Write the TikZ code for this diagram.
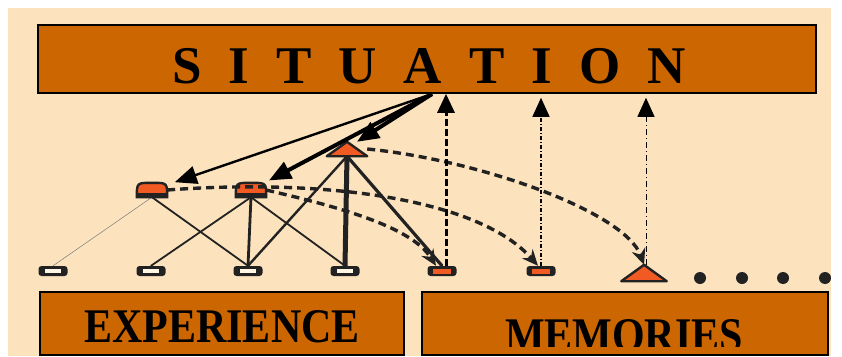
\documentclass[tikz,border=0pt]{standalone}
\usepackage{fontspec}
\usepackage{graphicx}
\setmainfont{Liberation Serif}
\usetikzlibrary{arrows.meta,calc}
\definecolor{bg}{HTML}{FCE3BE}
\definecolor{boxc}{HTML}{CC6600}
\definecolor{nodeo}{HTML}{F15A22}
\definecolor{dk}{HTML}{222222}
\definecolor{cream}{HTML}{FFF6E6}
\pgfdeclarelayer{back}
\pgfdeclarelayer{links}
\pgfsetlayers{back,links,main}
\begin{document}
\begin{tikzpicture}[x=1pt,y=-1pt,
  hollow/.style={fill=dk, rounded corners=3pt, minimum width=29pt, minimum height=10pt, inner sep=0pt},
  spot/.style={inner sep=0pt, minimum width=30pt, minimum height=14pt},
  bigspot/.style={inner sep=0pt, minimum width=45pt, minimum height=16pt},
  tri/.style={fill=nodeo, draw=dk, line width=2.4pt, line join=round},
  dome/.style={fill=nodeo, draw=dk, line width=2.4pt},
  title/.style={draw=black, line width=1.6pt, fill=boxc, inner sep=0pt},
  link/.style={draw=dk, line cap=round},
  push/.style={draw=black, -{Triangle[length=22pt,width=18pt]}},
  recall/.style={draw=dk, line width=3.4pt, dash pattern=on 8pt off 5pt, -{Stealth[length=16pt,width=14pt]}},
  probe/.style={draw=black, -{Triangle[length=19pt,width=17pt]}},
  dotn/.style={circle, fill=dk, minimum size=12pt, inner sep=0pt}
]
\useasboundingbox (0,0) rectangle (842,356);
\begin{pgfonlayer}{back}
\fill[bg] (8,8) rectangle (831,356);
\end{pgfonlayer}

% title boxes
\node[title, minimum width=778pt, minimum height=68pt] (sit) at (427,59) {};
\node[anchor=base] (sittext) at (429,83) {\fontsize{53}{60}\selectfont\bfseries\spaceskip=27pt\relax S I T U A T I O N};
\node[title, minimum width=364pt, minimum height=63pt] (exp) at (222,323.5) {};
\node[anchor=base] (exptext) at (222,342) {\scalebox{1}[1.15]{\fontsize{42}{42}\selectfont\bfseries EXPERIENCE}};
\node[title, minimum width=406pt, minimum height=63pt] (mem) at (625,323.5) {};
\begin{scope}
\clip (420,290) rectangle (830,346);
\node[anchor=base] (memtext) at (624,351) {\scalebox{1}[1.15]{\fontsize{42}{42}\selectfont\bfseries MEMORIES}};
\end{scope}

% bottom row
\node[hollow] (b1) at (53,271) {};
\node[hollow] (b2) at (151,271) {};
\node[hollow] (b3) at (248,271) {};
\node[hollow] (b4) at (345,271) {};
\node[hollow] (b5) at (442,271) {};
\node[hollow] (b6) at (541,271) {};
\foreach \b in {b1,b2,b3,b4}{
  \fill[cream] ($(\b.center)+(-8,-2)$) rectangle ($(\b.center)+(8,2)$);
}
\foreach \b in {b5,b6}{
  \fill[nodeo] ($(\b.center)+(-9,-2.5)$) rectangle ($(\b.center)+(9,2.5)$);
}
\node[bigspot] (bt) at (644,273) {};
\filldraw[tri] (bt.south west) -- (bt.north) -- (bt.south east) -- cycle;
\node[dotn] (d1) at (700,278) {};
\node[dotn] (d2) at (742,278) {};
\node[dotn] (d3) at (783,278) {};
\node[dotn] (d4) at (825,278) {};

% middle and top
\node[spot] (m1) at (152,190) {};
\node[spot] (m2) at (251,190) {};
\node[spot, minimum width=40pt] (t) at (347,149) {};
\foreach \m in {m1,m2}{
  \filldraw[dome] (\m.south west) .. controls (\m.north west) and (\m.north west) .. (\m.north)
     .. controls (\m.north east) and (\m.north east) .. (\m.south east) -- cycle;
  \fill[dk] (\m.south west) rectangle ($(\m.south east)!0.3!(\m.north east)$);
}
\filldraw[tri] (t.south west) -- (t.north) -- (t.south east) -- cycle;

% links
\begin{pgfonlayer}{links}
\draw[link, line width=0.5pt, draw=dk!60] (m1.south) -- (b1.north);
\draw[link, line width=1.8pt] (m1.south) -- (b3.north);
\draw[link, line width=1.8pt] (m2.south) -- (b2.north);
\draw[link, line width=2.8pt] (m2.south) -- (b3.north);
\draw[link, line width=1.8pt] (m2.south) -- (b4.north);
\draw[link, line width=2.4pt] (t.south) -- (b3.north);
\draw[link, line width=5pt, line cap=butt] (t.south) -- (b4.north);
\draw[link, line width=3.2pt] (t.south) -- (b5.north);
\end{pgfonlayer}

% arrows from situation
\coordinate (src) at (432,94);
\draw[push, line width=2.4pt, shorten >=8pt] (src) -- (m1);
\draw[push, line width=4pt, shorten >=5pt] (src) -- (m2);
\draw[push, line width=4pt] (src) -- ([xshift=10pt]t.north);

% recall curves
\draw[recall] (t.east) .. controls (480,160) and (625,212) .. (bt.north);
\draw[recall] (m1.east) .. controls (330,178) and (480,200) .. ([xshift=-3pt]b6.north);
\draw[recall] (m2.east) .. controls (330,205) and (410,225) .. ([xshift=-6pt]b5.north);

% probes up to situation
\coordinate (u1) at ($(b5.north)+(4,0)$);
\draw[probe, line width=3pt, dash pattern=on 7pt off 3pt] (u1) -- (u1 |- sit.south);
\draw[probe, line width=1.5pt, dash pattern=on 4pt off 2pt on 1pt off 2pt, shorten >=4pt] (b6.north) -- (b6.north |- sit.south);
\coordinate (u3) at ($(bt.north)+(2,0)$);
\draw[probe, line width=1pt, dash pattern=on 6pt off 3pt on 1pt off 3pt, shorten >=4pt] (u3) -- (u3 |- sit.south);
\end{tikzpicture}
\end{document}
